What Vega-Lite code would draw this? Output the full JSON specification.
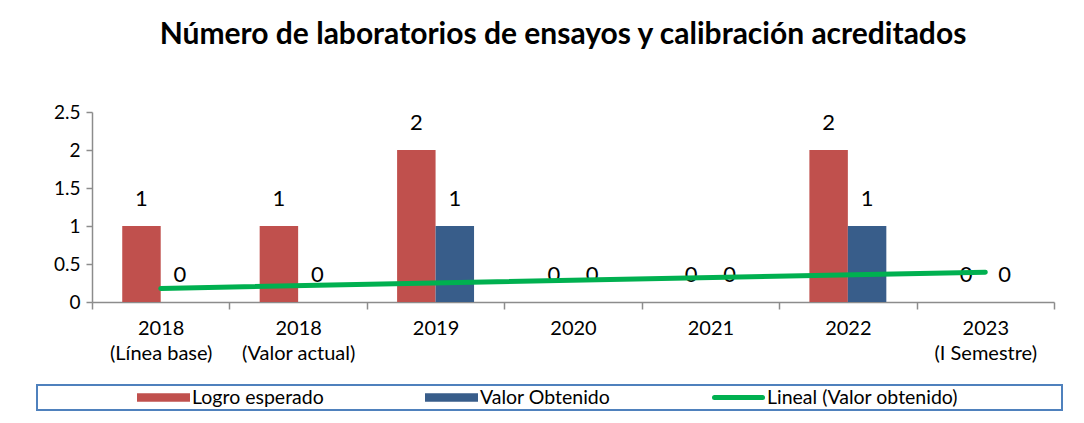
{
  "$schema": "https://vega.github.io/schema/vega-lite/v6.json",
  "width": 962,
  "height": 190,
  "autosize": {"type": "none"},
  "padding": {"left": 92, "top": 112, "right": 30, "bottom": 121},
  "background": "white",
  "title": {
    "text": "Número de laboratorios de ensayos y calibración acreditados",
    "font": "Lato",
    "fontSize": 30,
    "fontWeight": "bold",
    "color": "black",
    "frame": "group",
    "anchor": "middle",
    "dx": -10,
    "offset": 29,
    "baseline": "alphabetic"
  },
  "config": {"view": {"stroke": null}},
  "data": {
    "values": [
      {"cat": "2018|(Línea base)", "idx": 1, "serie": "Logro esperado", "valor": 1},
      {"cat": "2018|(Línea base)", "idx": 1, "serie": "Valor Obtenido", "valor": 0},
      {"cat": "2018|(Valor actual)", "idx": 2, "serie": "Logro esperado", "valor": 1},
      {"cat": "2018|(Valor actual)", "idx": 2, "serie": "Valor Obtenido", "valor": 0},
      {"cat": "2019", "idx": 3, "serie": "Logro esperado", "valor": 2},
      {"cat": "2019", "idx": 3, "serie": "Valor Obtenido", "valor": 1},
      {"cat": "2020", "idx": 4, "serie": "Logro esperado", "valor": 0},
      {"cat": "2020", "idx": 4, "serie": "Valor Obtenido", "valor": 0},
      {"cat": "2021", "idx": 5, "serie": "Logro esperado", "valor": 0},
      {"cat": "2021", "idx": 5, "serie": "Valor Obtenido", "valor": 0},
      {"cat": "2022", "idx": 6, "serie": "Logro esperado", "valor": 2},
      {"cat": "2022", "idx": 6, "serie": "Valor Obtenido", "valor": 1},
      {"cat": "2023|(I Semestre)", "idx": 7, "serie": "Logro esperado", "valor": 0},
      {"cat": "2023|(I Semestre)", "idx": 7, "serie": "Valor Obtenido", "valor": 0}
    ]
  },
  "encoding": {
    "y": {
      "field": "valor",
      "type": "quantitative",
      "scale": {"domain": [0, 2.5]},
      "axis": {
        "title": null,
        "values": [0, 0.5, 1, 1.5, 2, 2.5],
        "format": ".1~f",
        "labelOverlap": false,
        "grid": false,
        "labelFont": "Lato",
        "labelFontSize": 19,
        "labelColor": "black",
        "labelPadding": 6,
        "tickSize": 6,
        "tickColor": "#8c8c8c",
        "domainColor": "#8c8c8c",
        "domainWidth": 1.5,
        "tickWidth": 1.5
      }
    }
  },
  "layer": [
    {
      "encoding": {
        "x": {
          "field": "cat",
          "type": "nominal",
          "sort": null,
          "scale": {"paddingInner": 0, "paddingOuter": 0},
          "axis": {
            "title": null,
            "labelAngle": 0,
            "labelExpr": "isValid(datum.value) ? split(datum.value, '|') : ''",
            "labelFont": "Lato",
            "labelFontSize": 20,
            "labelColor": "black",
            "labelLineHeight": 25,
            "labelBaseline": "top",
            "labelPadding": 9,
            "tickBand": "extent",
            "tickSize": 7,
            "tickColor": "#8c8c8c",
            "domainColor": "#8c8c8c",
            "domainWidth": 1.5,
            "tickWidth": 1.5,
            "grid": false
          }
        },
        "xOffset": {
          "field": "serie",
          "type": "nominal",
          "sort": ["Logro esperado", "Valor Obtenido"],
          "scale": {"paddingInner": 0, "paddingOuter": 0.786}
        }
      },
      "layer": [
        {
          "mark": {"type": "bar"},
          "encoding": {
            "color": {
              "field": "serie",
              "type": "nominal",
              "scale": {
                "domain": ["Logro esperado", "Valor Obtenido", "Lineal (Valor obtenido)"],
                "range": ["#C0504D", "#385D8A", "#00B050"]
              },
              "legend": {
                "orient": "none",
                "legendX": -55,
                "legendY": 273,
                "direction": "horizontal",
                "title": "\u00a0",
                "titleOrient": "left",
                "titlePadding": 97,
                "padding": 3,
                "strokeColor": "#4F81BD",
                "labelFont": "Lato",
                "labelFontSize": 19.5,
                "labelColor": "black",
                "labelOffset": 2,
                "labelLimit": 500,
                "symbolSize": 2304,
                "symbolStrokeWidth": 5,
                "clipHeight": 19,
                "columnPadding": 101,
                "labelExpr": "datum.value == 'Lineal (Valor obtenido)' ? datum.label + '\u2003\u2003\u2003\u2003\u2003\u2002\u2009\u2800' : datum.label",
                "encode": {
                  "legend": {"update": {"strokeWidth": {"value": 2}}},
                  "symbols": {
                    "update": {
                      "shape": {"signal": "datum.index == 2 ? 'M-1,0H1' : 'M-1,-0.073H1V0.073H-1Z'"},
                      "size": {"value": 2304},
                      "fill": {"scale": "color", "field": "value"},
                      "stroke": {"scale": "color", "field": "value"},
                      "strokeWidth": {"value": 5},
                      "strokeCap": {"value": "round"},
                      "strokeJoin": {"value": "miter"},
                      "opacity": {"value": 1}
                    }
                  }
                }
              }
            }
          }
        },
        {
          "mark": {"type": "text", "dy": -27, "font": "Lato", "fontSize": 22, "color": "black", "baseline": "middle"},
          "encoding": {"text": {"field": "valor", "type": "quantitative"}}
        }
      ]
    },
    {
      "transform": [
        {"filter": "datum.serie === 'Valor Obtenido'"},
        {"regression": "valor", "on": "idx", "extent": [1, 7]}
      ],
      "mark": {"type": "line", "strokeWidth": 5, "strokeCap": "round"},
      "encoding": {
        "x": {"field": "idx", "type": "quantitative", "scale": {"domain": [0.5, 7.5]}, "axis": null},
        "color": {"datum": "Lineal (Valor obtenido)"}
      }
    }
  ],
  "resolve": {"scale": {"x": "independent"}}
}
